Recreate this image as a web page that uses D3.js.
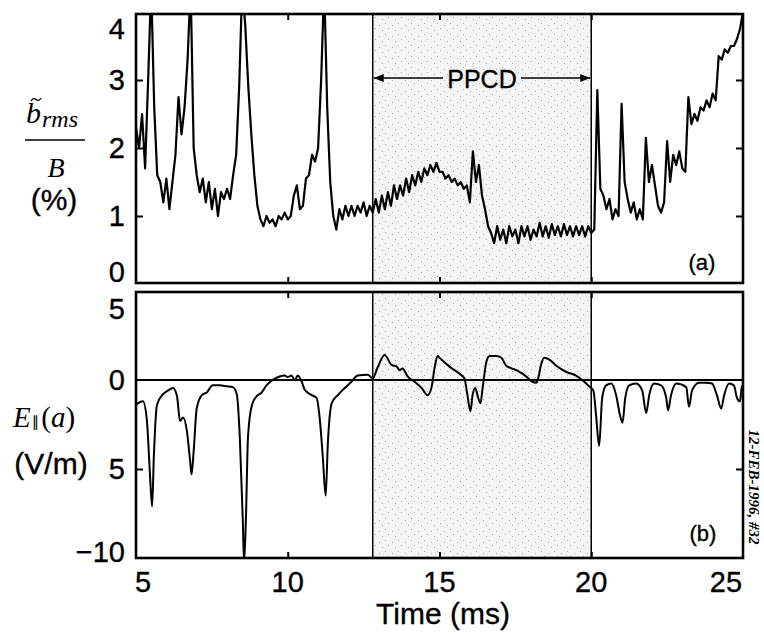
<!DOCTYPE html>
<html>
<head>
<meta charset="utf-8">
<script src="https://cdn.jsdelivr.net/npm/d3@7"></script>
<style>
  body { margin: 0; background: #fff; }
  svg { display: block; }
  .tick-label { font-family: "Liberation Sans", Arial, sans-serif; font-size: 29px; fill: #000; stroke: #000; stroke-width: 0.35px; }
  .serif-it { font-family: "Liberation Serif", "Times New Roman", serif; font-style: italic; }
</style>
</head>
<body>
<svg width="764" height="635"></svg>
<script>
// time axis and tick values
const xTicks = [5, 10, 15, 20, 25];
const bTicks = [0, 1, 2, 3, 4];
const eTicks = [5, 0, -5, -10];
const eTickLabels = ['5', '0', '5', '\u221210'];
const ppcd = [12.8, 20];

// b_rms / B (%) sampled every 0.1 ms from 5.0 to 25.0 ms
const bTime = d3.range(201).map(i => 5 + i * 0.1);
const bRms = [
  2.3, 2.0, 2.5, 1.7, 3.0, 4.4, 2.6, 1.6, 1.5, 1.2,
  1.55, 1.1, 1.5, 1.9, 2.75, 2.2, 2.6, 3.3, 4.4, 2.0,
  1.6, 1.35, 1.55, 1.2, 1.5, 1.1, 1.4, 1.0, 1.35, 1.25,
  1.4, 1.25, 1.6, 1.9, 2.9, 4.4, 3.8, 2.9, 2.2, 1.6,
  1.15, 0.95, 0.85, 1.0, 0.9, 0.95, 0.85, 1.0, 0.95, 1.05,
  0.95, 1.0, 1.3, 1.45, 1.1, 1.15, 1.55, 1.6, 1.9, 1.8,
  2.0, 3.0, 4.4, 2.6, 1.5, 1.0, 0.8, 1.1, 0.95, 1.15,
  1.0, 1.15, 1.0, 1.15, 1.05, 1.2, 1.0, 1.15, 1.05, 1.25,
  1.05, 1.3, 1.1, 1.35, 1.15, 1.45, 1.25, 1.45, 1.3, 1.55,
  1.35, 1.6, 1.45, 1.65, 1.5, 1.7, 1.6, 1.75, 1.65, 1.78,
  1.65, 1.65, 1.55, 1.6, 1.5, 1.55, 1.45, 1.5, 1.4, 1.45,
  1.2, 1.95, 1.5, 1.75, 1.3, 1.1, 0.85, 0.75, 0.6, 0.85,
  0.65, 0.8, 0.6, 0.85, 0.7, 0.8, 0.6, 0.85, 0.7, 0.85,
  0.65, 0.8, 0.7, 0.9, 0.7, 0.85, 0.68, 0.88, 0.72, 0.85,
  0.7, 0.88, 0.72, 0.85, 0.7, 0.85, 0.72, 0.85, 0.7, 0.85,
  0.75, 0.8, 2.85, 1.4, 1.3, 1.1, 1.25, 0.95, 1.1, 1.0,
  2.65, 1.5, 1.25, 1.05, 1.2, 0.95, 1.1, 0.95, 2.15, 1.5,
  1.75, 1.45, 1.15, 1.05, 1.2, 2.1, 1.5, 1.9, 1.75, 1.95,
  1.7, 1.65, 2.75, 2.35, 2.5, 2.4, 2.6, 2.55, 2.7, 2.6,
  2.8, 2.7, 3.35, 3.3, 3.45, 3.4, 3.5, 3.5, 3.6, 3.75,
  4.0
];

// E_parallel(a) (V/m)
const eTime = [
  5.0, 5.07, 5.23, 5.36, 5.46, 5.53, 5.59, 5.69, 5.89, 6.05,
  6.22, 6.35, 6.45, 6.55, 6.68, 6.78, 6.83, 6.9, 7.0, 7.17,
  7.33, 7.53, 7.76, 7.99, 8.19, 8.32, 8.42, 8.52, 8.56, 8.62,
  8.69, 8.82, 8.98, 9.14, 9.3, 9.5, 9.73, 9.9, 10.0, 10.12,
  10.23, 10.33, 10.46, 10.56, 10.79, 10.95, 11.05, 11.15, 11.25, 11.32,
  11.45, 11.65, 11.88, 12.1, 12.3, 12.63, 12.8, 12.96, 13.19, 13.42,
  13.59, 13.69, 13.78, 13.95, 14.18, 14.41, 14.61, 14.74, 14.84, 14.94,
  15.0, 15.33, 15.66, 15.82, 15.92, 16.02, 16.09, 16.18, 16.25, 16.35,
  16.42, 16.55, 16.65, 16.88, 17.04, 17.2, 17.53, 17.86, 18.06, 18.19,
  18.25, 18.36, 18.45, 18.62, 18.85, 19.18, 19.5, 19.7, 19.93, 20.07,
  20.16, 20.26, 20.36, 20.49, 20.66, 20.82, 20.95, 21.03, 21.12, 21.25,
  21.48, 21.68, 21.81, 21.91, 22.07, 22.3, 22.47, 22.53, 22.63, 22.8,
  23.13, 23.22, 23.32, 23.55, 23.78, 23.98, 24.14, 24.28, 24.38, 24.54,
  24.7, 24.8, 24.9, 24.96, 25.0
];
const eField = [
  -1.4, -1.3, -1.2, -2.3, -5.3, -7.1, -4.2, -1.4, -0.8, -0.6,
  -0.45, -0.9, -2.3, -2.1, -2.9, -4.5, -5.3, -4.0, -1.6, -0.85,
  -0.7, -0.3, -0.3, -0.35, -0.4, -0.8, -3.2, -7.9, -10.3, -7.9,
  -3.2, -1.4, -0.9, -0.7, -0.3, 0.0, 0.2, 0.25, 0.17, 0.25,
  0.0, 0.25, -0.1, -0.55, -0.85, -1.0, -2.1, -4.2, -6.5, -3.6,
  -1.3, -0.85, -0.45, -0.1, 0.25, 0.3, 0.1, 0.7, 1.4, 0.85,
  0.75, 0.55, 0.65, 0.2, -0.1, -0.45, -0.85, -0.4, 0.7, 1.35,
  1.25, 0.75, 0.35, 0.1, -0.85, -1.75, -0.85, -0.45, -0.85, -1.3,
  -0.45, 1.05, 1.35, 1.35, 1.25, 0.8, 0.55, 0.2, -0.1, -0.15,
  0.1, 0.95, 1.25, 1.15, 0.8, 0.45, 0.25, 0.0, -0.35, -0.6,
  -2.0, -3.7, -1.0, -0.3, -0.2, -0.85, -2.0, -2.4, -1.0, -0.3,
  -0.2, -0.6, -1.85, -0.85, -0.2, -0.3, -1.0, -1.7, -0.85, -0.2,
  -0.4, -1.5, -0.6, -0.15, -0.15, -0.2, -0.85, -1.6, -0.85, -0.2,
  -0.3, -1.0, -1.2, -0.4, -0.3
];

const svg = d3.select('svg');
const left = 136, right = 743;
const topA = 14, botA = 283;
const topB = 292, botB = 558;

const x = d3.scaleLinear().domain([5, 25]).range([left, right]);
const yA = d3.scaleLinear().domain([0, 4]).range([284, 12]);
const yB = d3.scaleLinear().domain([-10, 5]).range([botB, 291]);

// stipple pattern for the PPCD window
const defs = svg.append('defs');
const pat = defs.append('pattern')
  .attr('id', 'stip').attr('patternUnits', 'userSpaceOnUse')
  .attr('width', 13).attr('height', 11);
pat.append('rect').attr('width', 13).attr('height', 11).attr('fill', '#f4f4f4');
[[2, 3], [8, 1], [5, 8], [11, 6]].forEach(([a, b]) => {
  pat.append('rect').attr('x', a).attr('y', b).attr('width', 1).attr('height', 1).attr('fill', '#b0b0b0');
});

defs.append('clipPath').attr('id', 'clipA').append('rect')
  .attr('x', left).attr('y', topA).attr('width', right - left).attr('height', botA - topA);
defs.append('clipPath').attr('id', 'clipB').append('rect')
  .attr('x', left).attr('y', topB).attr('width', right - left).attr('height', botB - topB);

// shaded window in both panels
[[topA, botA], [topB, botB]].forEach(([t, b]) => {
  svg.append('rect')
    .attr('x', x(ppcd[0])).attr('y', t)
    .attr('width', x(ppcd[1]) - x(ppcd[0])).attr('height', b - t)
    .attr('fill', 'url(#stip)');
  ppcd.forEach(v => {
    svg.append('line')
      .attr('x1', x(v)).attr('x2', x(v)).attr('y1', t).attr('y2', b)
      .attr('stroke', '#000').attr('stroke-width', 1.5);
  });
});

// zero line in panel (b)
svg.append('line')
  .attr('x1', left).attr('x2', right).attr('y1', yB(0)).attr('y2', yB(0))
  .attr('stroke', '#000').attr('stroke-width', 2.2);

// traces
svg.append('path')
  .datum(bTime.map((t, i) => [t, bRms[i]]))
  .attr('clip-path', 'url(#clipA)')
  .attr('fill', 'none').attr('stroke', '#000').attr('stroke-width', 2.2)
  .attr('stroke-linejoin', 'round')
  .attr('d', d3.line().x(d => x(d[0])).y(d => yA(d[1])));

svg.append('path')
  .datum(eTime.map((t, i) => [t, eField[i]]))
  .attr('clip-path', 'url(#clipB)')
  .attr('fill', 'none').attr('stroke', '#000').attr('stroke-width', 2)
  .attr('stroke-linejoin', 'round')
  .attr('d', d3.line().curve(d3.curveMonotoneX).x(d => x(d[0])).y(d => yB(d[1])));

// inward ticks
function ticks(axis, tr) {
  const g = svg.append('g').attr('transform', tr).call(axis);
  g.select('.domain').remove();
  g.selectAll('.tick line').attr('stroke', '#000').attr('stroke-width', 2);
}
const xIn = [10, 15, 20];
ticks(d3.axisBottom(x).tickValues(xIn).tickSize(6).tickFormat(''), `translate(0,${topA})`);
ticks(d3.axisTop(x).tickValues(xIn).tickSize(6).tickFormat(''), `translate(0,${botA})`);
ticks(d3.axisBottom(x).tickValues(xIn).tickSize(6).tickFormat(''), `translate(0,${topB})`);
ticks(d3.axisTop(x).tickValues(xIn).tickSize(6).tickFormat(''), `translate(0,${botB})`);
ticks(d3.axisRight(yA).tickValues([1, 2, 3]).tickSize(7).tickFormat(''), `translate(${left},0)`);
ticks(d3.axisLeft(yA).tickValues([1, 2, 3]).tickSize(7).tickFormat(''), `translate(${right},0)`);
ticks(d3.axisRight(yB).tickValues([-5]).tickSize(7).tickFormat(''), `translate(${left},0)`);
ticks(d3.axisLeft(yB).tickValues([-5]).tickSize(7).tickFormat(''), `translate(${right},0)`);

// panel frames
[[topA, botA], [topB, botB]].forEach(([t, b]) => {
  svg.append('rect')
    .attr('x', left).attr('y', t).attr('width', right - left).attr('height', b - t)
    .attr('fill', 'none').attr('stroke', '#000').attr('stroke-width', 2.6);
});

// tick labels
svg.selectAll('.ya').data(bTicks).enter().append('text')
  .attr('class', 'tick-label')
  .attr('x', 125).attr('text-anchor', 'end')
  .attr('y', d => Math.min(Math.max(yA(d), topA + 15), botA - 11))
  .attr('dy', '0.36em').text(d => d);

svg.selectAll('.yb').data(eTicks).enter().append('text')
  .attr('class', 'tick-label')
  .attr('x', 125).attr('text-anchor', 'end')
  .attr('y', d => Math.min(Math.max(yB(d), topB + 17), botB - 6))
  .attr('dy', '0.36em').text((d, i) => eTickLabels[i]);

svg.selectAll('.xl').data(xTicks).enter().append('text')
  .attr('class', 'tick-label')
  .attr('x', d => Math.min(Math.max(x(d), 143), 726))
  .attr('y', 592).attr('text-anchor', 'middle').text(d => d);

svg.append('text').attr('class', 'tick-label')
  .attr('x', 443).attr('y', 624).attr('text-anchor', 'middle')
  .style('font-size', '30px').text('Time (ms)');

// y label (a): b~_rms / B (%)
const la = svg.append('g');
la.append('text').attr('class', 'serif-it')
  .attr('x', 26).attr('y', 123).style('font-size', '30px').text('b');
la.append('path')
  .attr('d', 'M31,101 q2.5,-4 5,-1.5 t5,-1.5')
  .attr('fill', 'none').attr('stroke', '#000').attr('stroke-width', 1.3);
la.append('text').attr('class', 'serif-it')
  .attr('x', 42).attr('y', 127).style('font-size', '24px').text('rms');
la.append('line')
  .attr('x1', 25).attr('x2', 85).attr('y1', 140).attr('y2', 140)
  .attr('stroke', '#000').attr('stroke-width', 1.6);
la.append('text').attr('class', 'serif-it')
  .attr('x', 56).attr('y', 177).attr('text-anchor', 'middle').style('font-size', '28px').text('B');
la.append('text').attr('class', 'tick-label')
  .attr('x', 54).attr('y', 210).attr('text-anchor', 'middle').style('font-size', '30px').text('(%)');

// y label (b): E||(a) (V/m)
const lb = svg.append('text')
  .attr('x', 13).attr('y', 427)
  .style('font-family', '"Liberation Serif", "Times New Roman", serif').style('font-size', '29px');
lb.append('tspan').style('font-style', 'italic').text('E');
lb.append('tspan').style('font-size', '15px').style('font-family', '"DejaVu Sans", sans-serif')
  .attr('dx', 1).text('\u2225');
lb.append('tspan').attr('dx', 2).text('(');
lb.append('tspan').style('font-style', 'italic').text('a');
lb.append('tspan').text(')');
svg.append('text').attr('class', 'tick-label')
  .attr('x', 51).attr('y', 474).attr('text-anchor', 'middle').style('font-size', '30px').text('(V/m)');

// PPCD window marker
const arrowY = 78;
defs.append('marker').attr('id', 'ah').attr('viewBox', '0 0 10 8')
  .attr('refX', 10).attr('refY', 4).attr('markerWidth', 14).attr('markerHeight', 8)
  .attr('markerUnits', 'userSpaceOnUse').attr('orient', 'auto-start-reverse')
  .append('path').attr('d', 'M0,0L10,4L0,8Z').attr('fill', '#000');
svg.append('line')
  .attr('x1', 443).attr('x2', x(ppcd[0]) + 1).attr('y1', arrowY).attr('y2', arrowY)
  .attr('stroke', '#000').attr('stroke-width', 1.6).attr('marker-end', 'url(#ah)');
svg.append('line')
  .attr('x1', 521).attr('x2', x(ppcd[1]) - 1).attr('y1', arrowY).attr('y2', arrowY)
  .attr('stroke', '#000').attr('stroke-width', 1.6).attr('marker-end', 'url(#ah)');
svg.append('text').attr('class', 'tick-label')
  .attr('x', 482).attr('y', 88).attr('text-anchor', 'middle').style('font-size', '25px').text('PPCD');

// panel tags
svg.append('text').attr('class', 'tick-label')
  .attr('x', 702).attr('y', 270).attr('text-anchor', 'middle').style('font-size', '22px').text('(a)');
svg.append('text').attr('class', 'tick-label')
  .attr('x', 703).attr('y', 541).attr('text-anchor', 'middle').style('font-size', '22px').text('(b)');

// shot stamp
svg.append('text')
  .attr('transform', 'translate(749,487) rotate(90)')
  .attr('text-anchor', 'middle')
  .style('font-family', '"Liberation Serif", "Times New Roman", serif')
  .style('font-style', 'italic').style('font-weight', 'bold').style('font-size', '15px')
  .text('12-FEB-1996, #32');
</script>
</body>
</html>
